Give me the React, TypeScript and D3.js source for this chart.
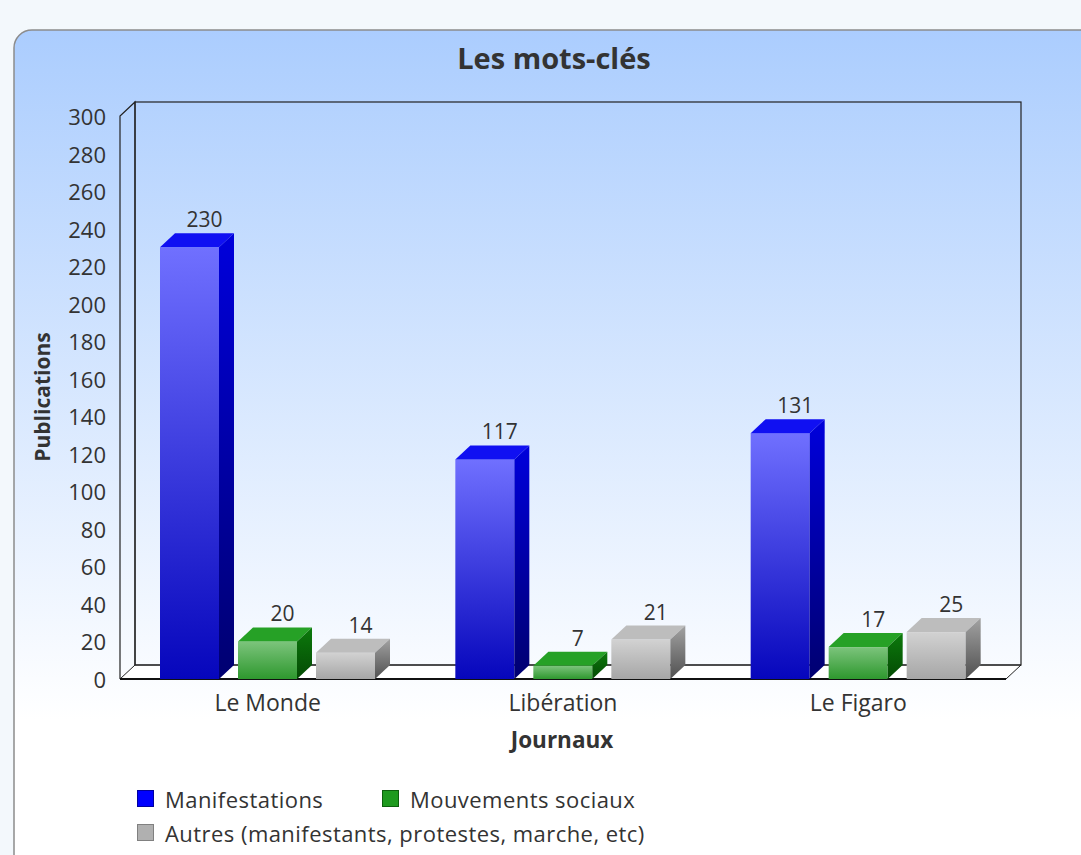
import React from "react";
import * as d3 from "d3";

const categories = ["Le Monde", "Libération", "Le Figaro"];
const seriesNames = ["Manifestations", "Mouvements sociaux", "Autres (manifestants, protestes, marche, etc)"];
const manifestations = [230, 117, 131];
const mouvements = [20, 7, 17];
const autres = [14, 21, 25];
const yTicks = [0, 20, 40, 60, 80, 100, 120, 140, 160, 180, 200, 220, 240, 260, 280, 300];

const W = 1081, H = 855;
const FONT = "'Open Sans', 'DejaVu Sans', sans-serif";

const palettes = [
  { front: ["#7070ff", "#0606bc"], top: "#1010f2", side: ["#0000dc", "#000070"], legend: "#0000ff", legendStroke: "#0000a0" },
  { front: ["#7cc47c", "#2e982e"], top: "#26a126", side: ["#0c7a0c", "#044a04"], legend: "#1e9a1e", legendStroke: "#0c600c" },
  { front: ["#d2d2d2", "#a6a6a6"], top: "#bdbdbd", side: ["#a2a2a2", "#505050"], legend: "#b0b0b0", legendStroke: "#808080" },
];

export default function App() {
  const series = [manifestations, mouvements, autres];
  const x0 = 120, x1 = 1006;
  const dx = 15, dy = 14;
  const yBase = 679;
  const y = d3.scaleLinear().domain([0, 300]).range([yBase, 116]);
  const xBand = d3.scaleBand<string>().domain(categories).range([x0, x1]);
  const barW = 59, barStep = 78, groupOff = 40;

  return (
    <svg width={W} height={H} style={{ position: "absolute", left: 0, top: 0 }} fontFamily={FONT}>
      <defs>
        <linearGradient id="pg" x1="0" y1="30" x2="0" y2="720" gradientUnits="userSpaceOnUse">
          <stop offset="0" stopColor="#abcdfe" />
          <stop offset="1" stopColor="#ffffff" />
        </linearGradient>
        {palettes.map((p, i) => (
          <React.Fragment key={i}>
            <linearGradient id={`front${i}`} x1="0" y1="0" x2="0" y2="1">
              <stop offset="0" stopColor={p.front[0]} />
              <stop offset="1" stopColor={p.front[1]} />
            </linearGradient>
            <linearGradient id={`side${i}`} x1="0" y1="0" x2="0" y2="1">
              <stop offset="0" stopColor={p.side[0]} />
              <stop offset="1" stopColor={p.side[1]} />
            </linearGradient>
          </React.Fragment>
        ))}
      </defs>
      <rect x={0} y={0} width={W} height={H} fill="#f3f8fc" />
      <path d={`M14,${H + 5} L14,48 A18,18 0 0 1 32,30 L${W + 5},30 L${W + 5},${H + 5} Z`} fill="url(#pg)" stroke="#8c8c8c" strokeWidth={1.5} />

      <text x={554} y={69} textAnchor="middle" fontSize={29} fontWeight="bold" fill="#333">Les mots-clés</text>

      {/* floor */}
      <path d={`M${x0},${yBase} L${x0 + dx},${yBase - dy} L${x1 + dx},${yBase - dy} L${x1},${yBase} Z`} fill="#ffffff" stroke="#222" strokeWidth={1} />
      {/* back wall */}
      <rect x={x0 + dx} y={y(300) - dy} width={x1 - x0} height={y(0) - y(300)} fill="none" stroke="#222" strokeWidth={1.2} />
      {/* left wall */}
      <path d={`M${x0},${yBase} L${x0},${y(300)} L${x0 + dx},${y(300) - dy} L${x0 + dx},${yBase - dy}`} fill="none" stroke="#222" strokeWidth={1.2} />
      <line x1={x0} x2={x1} y1={yBase} y2={yBase} stroke="#111" strokeWidth={1.8} />

      {yTicks.map((t) => (
        <text key={t} x={106} y={y(t)} textAnchor="end" dominantBaseline="central" fontSize={22} fill="#333">{t}</text>
      ))}

      {categories.map((c, ci) =>
        series.map((vals, si) => {
          const v = vals[ci];
          const bx = (xBand(c) as number) + groupOff + si * barStep;
          const yt = y(v);
          return (
            <g key={`${ci}-${si}`}>
              <rect x={bx} y={yt} width={barW} height={yBase - yt} fill={`url(#front${si})`} />
              <path d={`M${bx},${yt} L${bx + dx},${yt - dy} L${bx + barW + dx},${yt - dy} L${bx + barW},${yt} Z`} fill={palettes[si].top} />
              <path d={`M${bx + barW},${yt} L${bx + barW + dx},${yt - dy} L${bx + barW + dx},${yBase - dy} L${bx + barW},${yBase} Z`} fill={`url(#side${si})`} />
              <text x={bx + barW / 2 + dx} y={yt - dy - 6} textAnchor="middle" fontSize={21} fill="#333">{v}</text>
            </g>
          );
        })
      )}

      {categories.map((c) => (
        <text key={c} x={(xBand(c) as number) + xBand.bandwidth() / 2} y={711} textAnchor="middle" fontSize={23} fill="#333">{c}</text>
      ))}
      <text x={562} y={748} textAnchor="middle" fontSize={22.5} fontWeight="bold" fill="#333">Journaux</text>
      <text transform={`translate(50,397) rotate(-90)`} textAnchor="middle" fontSize={21} fontWeight="bold" fill="#333">Publications</text>

      {[{ i: 0, x: 137, y: 790 }, { i: 1, x: 382, y: 790 }, { i: 2, x: 137, y: 824 }].map(({ i, x, y: ly }) => (
        <g key={i}>
          <rect x={x + 0.5} y={ly + 0.5} width={16} height={16} fill={palettes[i].legend} stroke={palettes[i].legendStroke} strokeWidth={1} />
          <text x={x + 28} y={ly + 9} dominantBaseline="central" fontSize={22} letterSpacing={0.45} fill="#333">{seriesNames[i]}</text>
        </g>
      ))}
    </svg>
  );
}
